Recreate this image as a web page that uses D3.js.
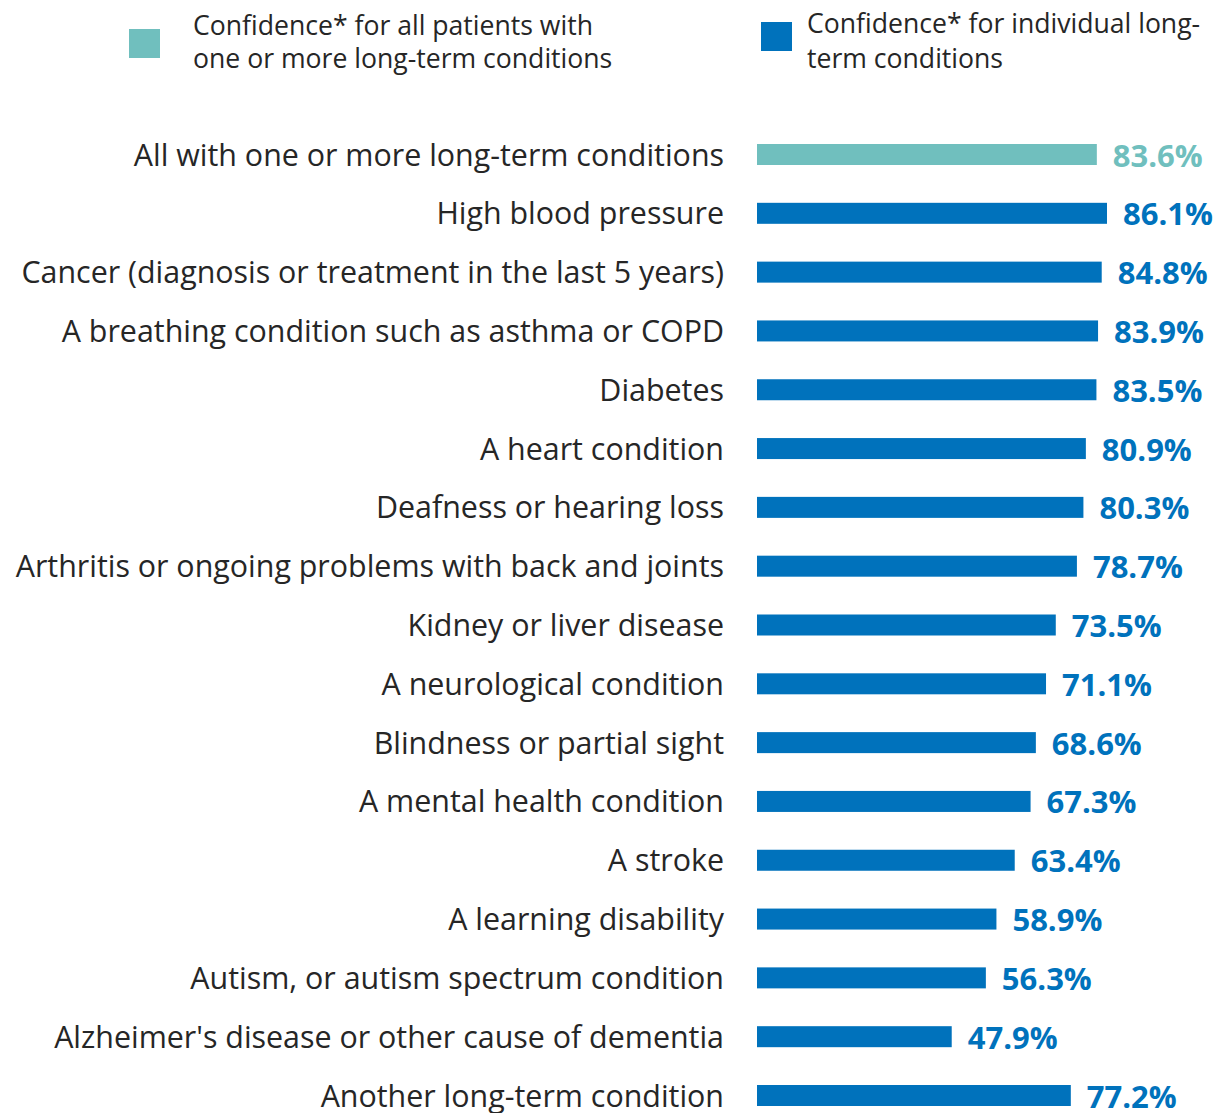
<!DOCTYPE html>
<html>
<head>
<meta charset="utf-8">
<script src="https://cdn.jsdelivr.net/npm/d3@7"></script>
<style>
  html, body { margin: 0; padding: 0; background: #fff; }
  svg { display: block; }
  text { font-family: "Segoe UI", "Open Sans", "Noto Sans", sans-serif; }
</style>
</head>
<body>
<svg id="chart" width="1216" height="1113"></svg>
<script>
// Long-term condition categories, top to bottom
const categories = [
  "All with one or more long-term conditions",
  "High blood pressure",
  "Cancer (diagnosis or treatment in the last 5 years)",
  "A breathing condition such as asthma or COPD",
  "Diabetes",
  "A heart condition",
  "Deafness or hearing loss",
  "Arthritis or ongoing problems with back and joints",
  "Kidney or liver disease",
  "A neurological condition",
  "Blindness or partial sight",
  "A mental health condition",
  "A stroke",
  "A learning disability",
  "Autism, or autism spectrum condition",
  "Alzheimer's disease or other cause of dementia",
  "Another long-term condition"
];

// Confidence (%) for each category
const confidence = [83.6, 86.1, 84.8, 83.9, 83.5, 80.9, 80.3, 78.7, 73.5, 71.1, 68.6, 67.3, 63.4, 58.9, 56.3, 47.9, 77.2];

// Series membership: the first row is the overall figure
const series = ["all", "individual", "individual", "individual", "individual", "individual",
  "individual", "individual", "individual", "individual", "individual", "individual",
  "individual", "individual", "individual", "individual", "individual"];

const legendItems = [
  { key: "all", lines: ["Confidence* for all patients with", "one or more long-term conditions"] },
  { key: "individual", lines: ["Confidence* for individual long-", "term conditions"] }
];

const colors = { all: "#70BFBE", individual: "#0072BC" };
const textColor = "#262626";

const rows = categories.map((c, i) => ({ category: c, value: confidence[i], series: series[i] }));

const svg = d3.select("#chart");

const x = d3.scaleLinear().domain([0, 100]).range([757, 757 + 406.5]);
const y = d3.scalePoint().domain(categories).range([154.5, 1095.5]);
const barH = 21;

// Category labels
svg.append("g").selectAll("text")
  .data(rows)
  .join("text")
  .attr("x", 724)
  .attr("y", d => y(d.category) + 11)
  .attr("text-anchor", "end")
  .attr("font-size", 30.4)
  .attr("fill", textColor)
  .text(d => d.category);

// Bars
svg.append("g").selectAll("rect")
  .data(rows)
  .join("rect")
  .attr("x", x(0))
  .attr("y", d => y(d.category) - barH / 2)
  .attr("width", d => x(d.value) - x(0))
  .attr("height", barH)
  .attr("fill", d => colors[d.series]);

// Value labels
svg.append("g").selectAll("text")
  .data(rows)
  .join("text")
  .attr("x", d => x(d.value) + 16)
  .attr("y", d => y(d.category) + 12)
  .attr("font-size", 31)
  .attr("font-weight", 700)
  .attr("fill", d => colors[d.series])
  .text(d => d3.format(".1f")(d.value) + "%");

// Legend
const legendPos = {
  all: { sx: 129, sy: 29, tx: 193, ty: 35, lh: 33 },
  individual: { sx: 761, sy: 22, tx: 807, ty: 33, lh: 35 }
};
const lg = svg.append("g").selectAll("g")
  .data(legendItems)
  .join("g");
lg.append("rect")
  .attr("x", d => legendPos[d.key].sx)
  .attr("y", d => legendPos[d.key].sy)
  .attr("width", 31)
  .attr("height", 29)
  .attr("fill", d => colors[d.key]);
lg.append("text")
  .attr("font-size", 26.6)
  .attr("fill", textColor)
  .selectAll("tspan")
  .data(d => d.lines.map((l, i) => ({ l, i, key: d.key })))
  .join("tspan")
  .attr("x", d => legendPos[d.key].tx)
  .attr("y", d => legendPos[d.key].ty + d.i * legendPos[d.key].lh)
  .text(d => d.l);
</script>
</body>
</html>
